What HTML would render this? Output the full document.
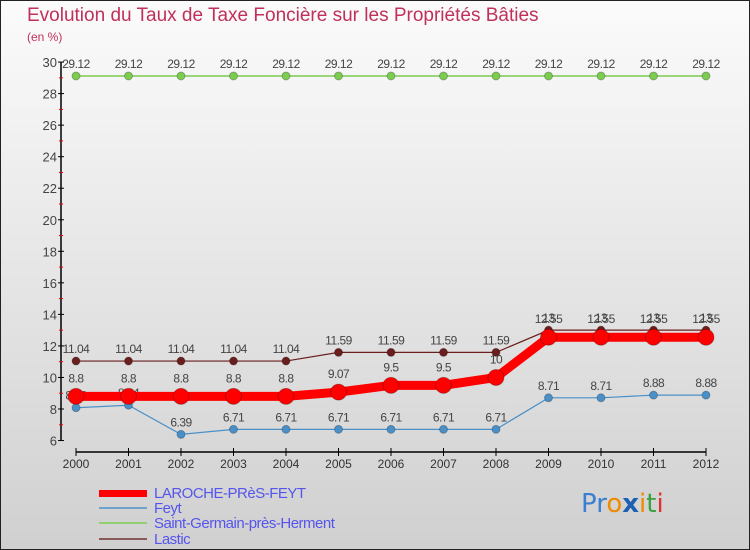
<!DOCTYPE html>
<html><head><meta charset="utf-8"><style>
body{margin:0}
#w{position:relative;width:748px;height:548px;border:1px solid #222;background:linear-gradient(#fbfbfb,#d0d0d0);font-family:"Liberation Sans",sans-serif;overflow:hidden}
.t{position:absolute;color:#c0305a}
.lg{position:absolute;left:153px;font-size:15px;color:#5555ee;letter-spacing:-0.5px;line-height:15px}
.ll{position:absolute;left:98px;width:48px}
</style></head><body>
<div id="w">
<div class="t" style="left:26px;top:4px;font-size:19px">Evolution du Taux de Taxe Foncière sur les Propriétés Bâties</div>
<div class="t" style="left:26px;top:29px;font-size:12px">(en %)</div>
<svg id="s" width="748" height="480" style="position:absolute;left:0;top:0"></svg>
<div class="ll" style="top:489px;height:7px;background:#f00"></div>
<div class="lg" style="top:485px">LAROCHE-PRèS-FEYT</div>
<div class="ll" style="top:506px;height:2px;background:#6fa3cc"></div>
<div class="lg" style="top:500px">Feyt</div>
<div class="ll" style="top:521px;height:2px;background:#8fd070"></div>
<div class="lg" style="top:515px">Saint-Germain-près-Herment</div>
<div class="ll" style="top:537px;height:2px;background:#8a5a5a"></div>
<div class="lg" style="top:531px">Lastic</div>
<div style="position:absolute;left:580px;top:488px;font-size:26px;font-family:'DejaVu Sans',sans-serif"><span style="color:#3a7fd0">Pr</span><span style="color:#f08a00">o</span><span style="color:#1d5fb0;font-weight:bold">x</span><span style="color:#f08a00">i</span><span style="color:#3aa040">t</span><span style="color:#e03030">i</span></div>
</div>
<script>
const years=[2000,2001,2002,2003,2004,2005,2006,2007,2008,2009,2010,2011,2012];
const yTicks=[6,8,10,12,14,16,18,20,22,24,26,28,30];
const laroche=[8.8,8.8,8.8,8.8,8.8,9.07,9.5,9.5,10,12.55,12.55,12.55,12.55];
const feyt=[8.08,8.24,6.39,6.71,6.71,6.71,6.71,6.71,6.71,8.71,8.71,8.88,8.88];
const stgermain=[29.12,29.12,29.12,29.12,29.12,29.12,29.12,29.12,29.12,29.12,29.12,29.12,29.12];
const lastic=[11.04,11.04,11.04,11.04,11.04,11.59,11.59,11.59,11.59,13,13,13,13];
const s=document.getElementById('s'),NS='http://www.w3.org/2000/svg';
const X=i=>75+i*52.5, Y=v=>408-(v-8)*15.77;
function mk(t,a,p){const e=document.createElementNS(NS,t);for(const k in a)e.setAttribute(k,a[k]);(p||s).appendChild(e);return e;}
let ax=mk('line',{x1:60,y1:Y(30),x2:60,y2:Y(6),stroke:'#000','stroke-width':1.5});


let xa=mk('line',{x1:X(0),y1:451,x2:X(12),y2:451,stroke:'#000','stroke-width':1.5});


yTicks.forEach(v=>{mk('line',{x1:57,y1:Y(v),x2:63,y2:Y(v),stroke:'#000'});
 if(v<30)mk('line',{x1:58,y1:Y(v+1),x2:62,y2:Y(v+1),stroke:'#e00'});
 const t=mk('text',{x:56,y:Y(v)+5,'text-anchor':'end','font-size':13,fill:'#444','font-family':'Liberation Sans'});t.textContent=v;
 
 });
years.forEach((y,i)=>{mk('line',{x1:X(i),y1:447,x2:X(i),y2:455,stroke:'#000'});
 const t=mk('text',{x:X(i),y:467,'text-anchor':'middle','font-size':12,fill:'#333','font-family':'Liberation Sans'});t.textContent=y;
 
 });
function series(d,col,w,r,name,off){
 const g=mk('g',{});
 mk('polyline',{points:d.map((v,i)=>X(i)+','+Y(v)).join(' '),fill:'none',stroke:col,'stroke-width':w},g);
 d.forEach((v,i)=>{const c=mk('circle',{cx:X(i),cy:Y(v),r:r,fill:col,stroke:'rgba(0,0,0,0.25)'},g);
  
  
  const t=mk('text',{x:X(i),y:Y(v)-off,'text-anchor':'middle','font-size':12,fill:'#444','font-family':'Liberation Sans','letter-spacing':'-0.5'},g);t.textContent=v;
  
  });}
series(stgermain,'#7ccc50',1.5,4,'saint-germain',8);
series(lastic,'#6a1e1e',1.2,4,'lastic',8);
series(feyt,'#4a90c8',1.2,4,'feyt',8);
series(laroche,'#f00',9,8,'laroche',14);
</script>
</body></html>
